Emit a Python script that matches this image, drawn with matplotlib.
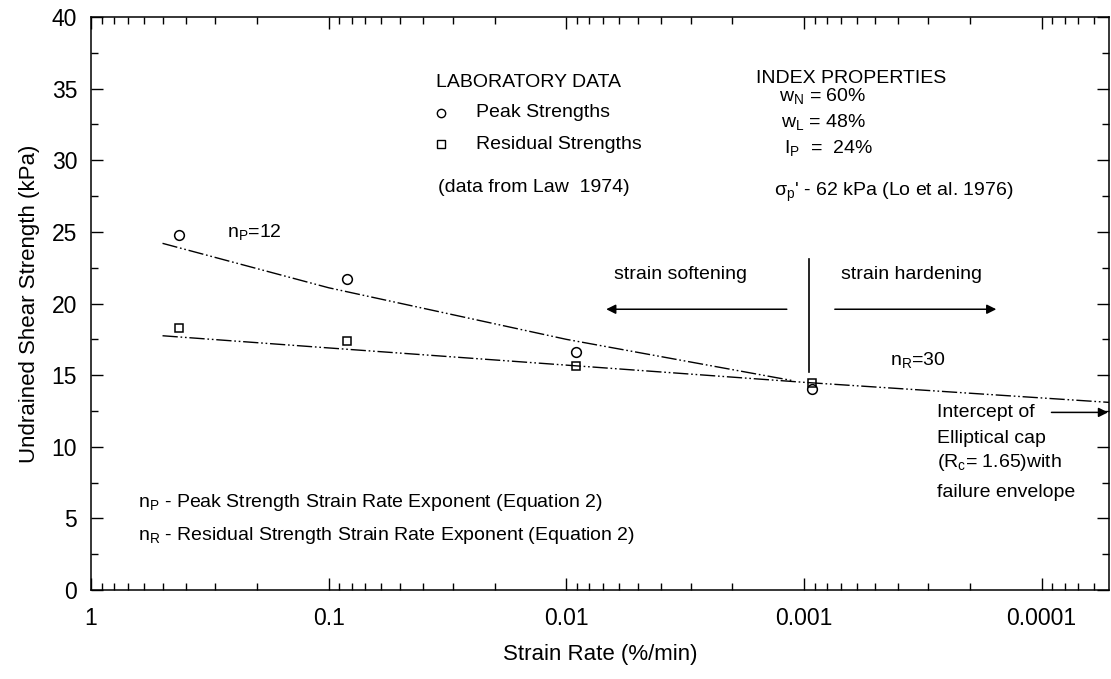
import matplotlib
matplotlib.use("Agg")
import matplotlib.pyplot as plt
from matplotlib.ticker import FixedLocator, FixedFormatter, LogLocator, NullFormatter, MultipleLocator

plt.rcParams['font.family'] = ['Liberation Sans', 'DejaVu Sans']
plt.rcParams['mathtext.fontset'] = 'custom'
plt.rcParams['mathtext.rm'] = 'Liberation Sans'

# laboratory data (Law 1974), strain rate in %/min, strength in kPa
peak_rate = [0.427, 0.084, 0.0091, 0.00092]
peak_su = [24.8, 21.7, 16.6, 14.05]
resid_rate = [0.427, 0.084, 0.0091, 0.00092]
resid_su = [18.3, 17.4, 15.65, 14.45]

# fitted lines
peak_fit_rate = [0.5, 0.1, 0.01, 0.0011]
peak_fit_su = [24.2, 21.1, 17.5, 14.6]
resid_fit_rate = [0.5, 0.1, 0.01, 0.001, 5.2e-5]
resid_fit_su = [17.75, 16.9, 15.7, 14.5, 13.1]

x_ticks = [1, 0.1, 0.01, 0.001, 0.0001]
x_labels = ['1', '0.1', '0.01', '0.001', '0.0001']

fig = plt.figure(figsize=(11.11, 6.79), dpi=100)
ax = fig.add_axes([0.0819, 0.131, 0.9163, 0.844])

dashdotdot = (0, (11, 2, 1.2, 2, 1.2, 2))
ax.plot(peak_fit_rate, peak_fit_su, color='k', lw=1.0, ls=dashdotdot)
ax.plot(resid_fit_rate, resid_fit_su, color='k', lw=1.0, ls=dashdotdot)
ax.plot(peak_rate, peak_su, 'o', mfc='none', mec='k', ms=7, mew=1.1)
ax.plot(resid_rate, resid_su, 's', mfc='none', mec='k', ms=6, mew=1.1)

ax.set_xscale('log')
ax.set_xlim(1, 5.2e-5)
ax.set_ylim(0, 40)
ax.xaxis.set_major_locator(FixedLocator(x_ticks))
ax.xaxis.set_major_formatter(FixedFormatter(x_labels))
ax.xaxis.set_minor_locator(LogLocator(base=10, subs=range(2, 10), numticks=20))
ax.xaxis.set_minor_formatter(NullFormatter())
ax.yaxis.set_major_locator(MultipleLocator(5))
ax.yaxis.set_minor_locator(MultipleLocator(2.5))
ax.tick_params(which='both', direction='in', top=True, right=True, labelsize=16.5, width=1)
ax.tick_params(which='major', length=8.5)
ax.tick_params(which='minor', length=5)
ax.tick_params(axis='x', which='major', pad=12)
ax.tick_params(axis='y', which='major', pad=10)
for s in ax.spines.values():
    s.set_linewidth(1.1)

ax.set_xlabel('Strain Rate (%/min)', fontsize=16, labelpad=10)
ax.set_ylabel('Undrained Shear Strength (kPa)', fontsize=16, labelpad=8)

fs = 14
ax.text(0.0352, 35.45, 'LABORATORY DATA', fontsize=fs, va='center')
ax.plot([0.0335], [33.3], 'o', mfc='none', mec='k', ms=6, mew=1)
ax.plot([0.0335], [31.1], 's', mfc='none', mec='k', ms=5.5, mew=1)
ax.text(0.0239, 33.3, 'Peak Strengths', fontsize=fs, va='center')
ax.text(0.0239, 31.1, 'Residual Strengths', fontsize=fs, va='center')
ax.text(0.0348, 28.1, '(data from Law  1974)', fontsize=fs, va='center')

ax.text(0.00159, 35.7, 'INDEX PROPERTIES', fontsize=fs, va='center')
ax.text(0.001274, 34.4, r'w$_\mathregular{N}$ = 60%', fontsize=fs, va='center')
ax.text(0.001245, 32.6, r'w$_\mathregular{L}$ = 48%', fontsize=fs, va='center')
ax.text(0.001214, 30.8, r'I$_\mathregular{P}$  =  24%', fontsize=fs, va='center')
ax.text(0.001337, 27.8, r"σ$_\mathregular{p}$' - 62 kPa (Lo et al. 1976)", fontsize=fs, va='center')

ax.text(0.268, 24.9, r'n$_\mathregular{P}$=12', fontsize=fs, va='center')
ax.text(0.000435, 16.0, r'n$_\mathregular{R}$=30', fontsize=fs, va='center')

ax.text(0.00628, 22.0, 'strain softening', fontsize=fs, va='center')
ax.text(0.0007, 22.0, 'strain hardening', fontsize=fs, va='center')
ax.plot([0.00095, 0.00095], [15.2, 23.1], color='k', lw=1.2)
arrow = dict(arrowstyle='-|>', lw=1.1, color='k', mutation_scale=14, shrinkA=0, shrinkB=0)
ax.annotate('', xy=(0.00679, 19.6), xytext=(0.00118, 19.6), arrowprops=arrow)
ax.annotate('', xy=(0.000155, 19.6), xytext=(0.000741, 19.6), arrowprops=arrow)

ax.text(0.000276, 12.4, 'Intercept of', fontsize=fs, va='center')
ax.text(0.000276, 10.55, 'Elliptical cap', fontsize=fs, va='center')
ax.text(0.000276, 8.9, r'(R$_\mathregular{c}$= 1.65)with', fontsize=fs, va='center')
ax.text(0.000276, 6.8, 'failure envelope', fontsize=fs, va='center')
ax.annotate('', xy=(5.25e-5, 12.4), xytext=(9.08e-5, 12.4), arrowprops=arrow)

ax.text(0.635, 6.1, r'n$_\mathregular{P}$ - Peak Strength Strain Rate Exponent (Equation 2)', fontsize=fs, va='center')
ax.text(0.635, 3.8, r'n$_\mathregular{R}$ - Residual Strength Strain Rate Exponent (Equation 2)', fontsize=fs, va='center')

fig.savefig('out.png', dpi=100)
